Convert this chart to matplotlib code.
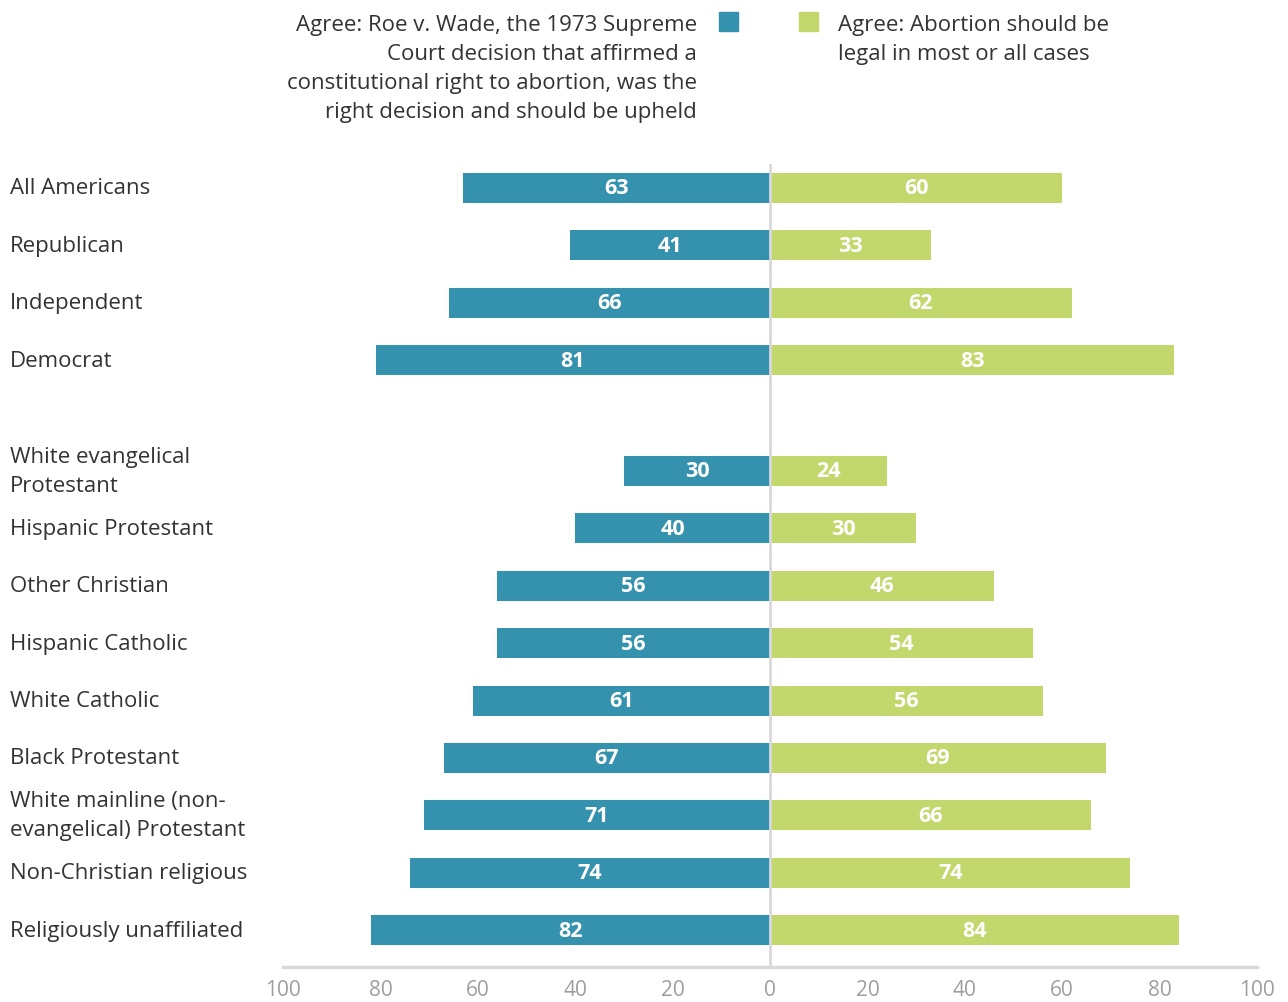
import matplotlib.pyplot as plt
import numpy as np

plt.rcParams['font.family'] = ['Open Sans', 'DejaVu Sans']

groups = ["All Americans", "Republican", "Independent", "Democrat",
          "White evangelical\nProtestant", "Hispanic Protestant", "Other Christian",
          "Hispanic Catholic", "White Catholic", "Black Protestant",
          "White mainline (non-\nevangelical) Protestant", "Non-Christian religious",
          "Religiously unaffiliated"]
roe_upheld = [63, 41, 66, 81, 30, 40, 56, 56, 61, 67, 71, 74, 82]
legal_most_all = [60, 33, 62, 83, 24, 30, 46, 54, 56, 69, 66, 74, 84]
ticks = [-100, -80, -60, -40, -20, 0, 20, 40, 60, 80, 100]

TEAL = "#3592af"
GREEN = "#c3d86c"

# party rows, then a gap, then religious groups
ypos = np.array([0, 1, 2, 3] + [4.93 + i for i in range(9)])

Y0, STEP = 189, 57.4

fig = plt.figure(figsize=(12.88, 10.03), dpi=100)
ax = fig.add_axes([283 / 1288, 1 - 968 / 1003, 974 / 1288, (968 - 165) / 1003])

h = 0.52
ax.barh(ypos, [-v for v in roe_upheld], height=h, color=TEAL)
ax.barh(ypos, legal_most_all, height=h, color=GREEN)

for y, l, r in zip(ypos, roe_upheld, legal_most_all):
    ax.text(-l / 2, y, str(l), ha="center", va="center", color="white",
            fontsize=15.5, fontweight="bold")
    ax.text(r / 2, y, str(r), ha="center", va="center", color="white",
            fontsize=15.5, fontweight="bold")

ax.axvline(0, color="#d9d9d9", lw=2, zorder=3)

ax.set_xlim(-100, 100)
ax.set_ylim((968 - Y0) / STEP, (165 - Y0) / STEP)
ax.set_xticks(ticks)
ax.set_xticklabels([str(abs(t)) for t in ticks], fontsize=15, color="#9e9e9e")
ax.tick_params(axis="x", length=0, pad=9)
ax.set_yticks([])
for side in ["top", "left", "right"]:
    ax.spines[side].set_visible(False)
ax.spines["bottom"].set_color("#d9d9d9")
ax.spines["bottom"].set_linewidth(2.5)

for y, name in zip(ypos, groups):
    fy = 1 - (Y0 + STEP * y) / 1003
    fig.text(10 / 1288, fy, name, ha="left", va="center", fontsize=16,
             color="#333333", linespacing=1.5)

# legend
fig.patches.append(plt.Rectangle((719 / 1288, 1 - 32 / 1003), 19 / 1288, 19 / 1003,
                                 transform=fig.transFigure, color=TEAL))
fig.patches.append(plt.Rectangle((799 / 1288, 1 - 32 / 1003), 19 / 1288, 19 / 1003,
                                 transform=fig.transFigure, color=GREEN))
fig.text(697 / 1288, 1 - 15 / 1003,
         "Agree: Roe v. Wade, the 1973 Supreme\nCourt decision that affirmed a\n"
         "constitutional right to abortion, was the\nright decision and should be upheld",
         ha="right", va="top", fontsize=16, color="#333333", linespacing=1.5,
         multialignment="right")
fig.text(838 / 1288, 1 - 15 / 1003,
         "Agree: Abortion should be\nlegal in most or all cases",
         ha="left", va="top", fontsize=16, color="#333333", linespacing=1.5)

fig.savefig("out.png", dpi=100)
